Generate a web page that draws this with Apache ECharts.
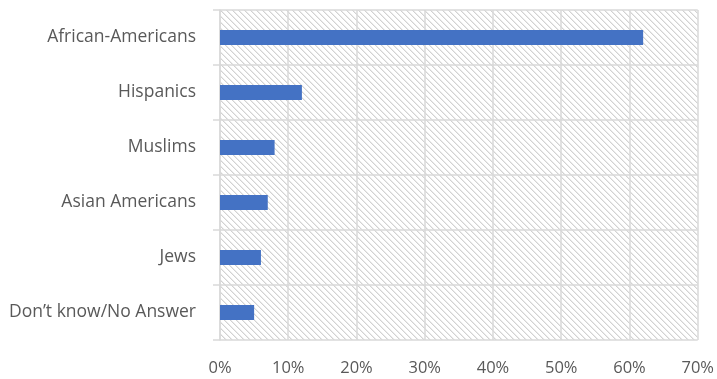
<!DOCTYPE html>
<html>
<head>
<meta charset="utf-8">
<script src="https://cdn.jsdelivr.net/npm/echarts@6/dist/echarts.min.js"></script>
<style>
html,body{margin:0;padding:0;background:#fff;}
#chart{width:717px;height:379px;}
</style>
</head>
<body>
<div id="chart"></div>
<script>
var categories = ['African-Americans', 'Hispanics', 'Muslims', 'Asian Americans', 'Jews', 'Don\u2019t know/No Answer'];
var values = [62, 12, 8, 7, 6, 5];
var xTicks = [0, 10, 20, 30, 40, 50, 60, 70];

// hatch pattern
var pc = document.createElement('canvas');
pc.width = 6; pc.height = 6;
var pctx = pc.getContext('2d');
pctx.fillStyle = '#ffffff';
pctx.fillRect(0, 0, 6, 6);
for (var y = 0; y < 6; y++) {
  for (var x = 0; x < 6; x++) {
    var d = (x - y + 12) % 6;
    if (d === 0) { pctx.fillStyle = '#d2d2d2'; pctx.fillRect(x, y, 1, 1); }
    else if (d === 1) { pctx.fillStyle = '#ebebeb'; pctx.fillRect(x, y, 1, 1); }
  }
}

var chart = echarts.init(document.getElementById('chart'));
var font = '"Open Sans", "Liberation Sans", sans-serif';
chart.setOption({
  animation: false,
  grid: {
    left: 220, right: 17, top: 10, bottom: 39,
    show: true,
    backgroundColor: { image: pc, repeat: 'repeat' },
    borderWidth: 0
  },
  xAxis: {
    type: 'value',
    min: xTicks[0], max: xTicks[xTicks.length - 1], interval: 10,
    axisLine: { show: false },
    axisTick: { show: false },
    splitLine: { show: true, lineStyle: { color: '#d9d9d9', width: 1.5 } },
    axisLabel: {
      formatter: '{value}%', color: '#595959', fontSize: 16.5, fontFamily: font, margin: 20
    }
  },
  yAxis: {
    type: 'category',
    inverse: true,
    data: categories,
    axisLine: { show: true, lineStyle: { color: '#d9d9d9', width: 1.5 } },
    axisTick: { show: true, length: 7, interval: 0, lineStyle: { color: '#d9d9d9', width: 1.5 } },
    splitLine: { show: true, interval: 0, lineStyle: { color: '#d9d9d9', width: 1.5 } },
    axisLabel: { color: '#595959', fontSize: 17.5, fontFamily: font, margin: 24, interval: 0 }
  },
  series: [{
    type: 'bar',
    data: values,
    barWidth: 15,
    itemStyle: { color: '#4472C4' }
  }]
});
</script>
</body>
</html>
